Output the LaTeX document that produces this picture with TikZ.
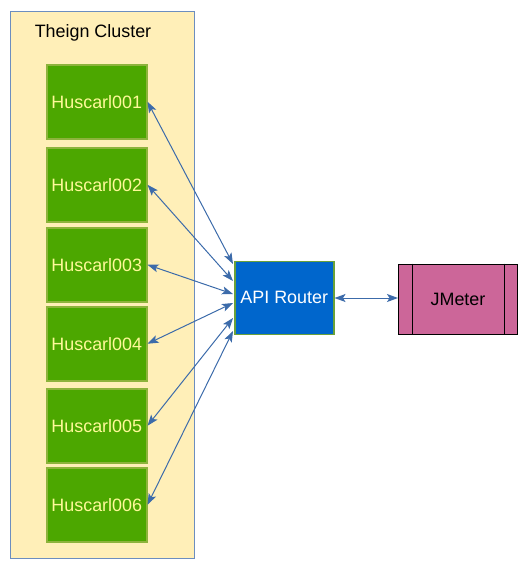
\documentclass[tikz,border=0pt]{standalone}
\usepackage{fontspec}
\setmainfont{Liberation Sans}
\usetikzlibrary{arrows.meta}
\definecolor{clfill}{HTML}{FFEFB8}
\definecolor{clline}{HTML}{6C8EBF}
\definecolor{gfill}{HTML}{4CA700}
\definecolor{gline}{HTML}{8DB33C}
\definecolor{gtext}{HTML}{FFF99A}
\definecolor{rfill}{HTML}{0066CC}
\definecolor{rline}{HTML}{6AA13A}
\definecolor{jfill}{HTML}{CC6699}
\definecolor{arr}{HTML}{3C6BAA}
\tikzset{
  x=1pt, y=-1pt,
  txt/.style={font=\fontsize{17.9pt}{20pt}\selectfont},
  hbox/.style={draw=gline, line width=1.5pt, fill=gfill, minimum width=100pt, minimum height=74pt, inner sep=0pt, anchor=north west, txt, text=gtext},
  link/.style={draw=arr, line width=1pt, {Stealth[length=11pt,width=8pt,inset=2.5pt]}-{Stealth[length=11pt,width=8pt,inset=2.5pt]}},
}
\begin{document}
\begin{tikzpicture}
\useasboundingbox (0,0) rectangle (523,571);
\node[draw=clline, line width=1pt, fill=clfill, minimum width=184pt, minimum height=547pt, anchor=north west, inner sep=0pt] (cluster) at (10,11) {};
\node[txt, text=black, inner sep=0pt] (title) at (93,33) {Theign Cluster};
\node[hbox] (h1) at (46,64) {Huscarl001};
\node[hbox] (h2) at (46,147) {Huscarl002};
\node[hbox] (h3) at (46,227) {Huscarl003};
\node[hbox] (h4) at (46,306) {Huscarl004};
\node[hbox] (h5) at (46,388) {Huscarl005};
\node[hbox] (h6) at (46,467) {Huscarl006};
\node[draw=rline, line width=1.5pt, fill=rfill, minimum width=99pt, minimum height=73pt, inner sep=0pt, anchor=north west, txt, text=white] (router) at (234,260.5) {API Router};
\node[draw=black, line width=1pt, fill=jfill, minimum width=119pt, minimum height=70pt, inner sep=0pt, anchor=north west, txt, text=black] (jm) at (398,263.5) {JMeter};
\draw[line width=1pt] ([xshift=14pt]jm.north west) -- ([xshift=14pt]jm.south west);
\draw[line width=1pt] ([xshift=-14pt]jm.north east) -- ([xshift=-14pt]jm.south east);
\coordinate (r1) at (233,264);
\coordinate (r2) at (233,281);
\coordinate (r3) at (233,294);
\coordinate (r4) at (233,303);
\coordinate (r5) at (233,318);
\coordinate (r6) at (233,331);
\draw[link] (h1.east) -- (r1);
\draw[link] (h2.east) -- (r2);
\draw[link] (h3.east) -- (r3);
\draw[link] (h4.east) -- (r4);
\draw[link] (h5.east) -- (r5);
\draw[link] (h6.east) -- (r6);
\draw[link] (router.east |- 0,298) -- (jm.west |- 0,298);
\end{tikzpicture}
\end{document}
